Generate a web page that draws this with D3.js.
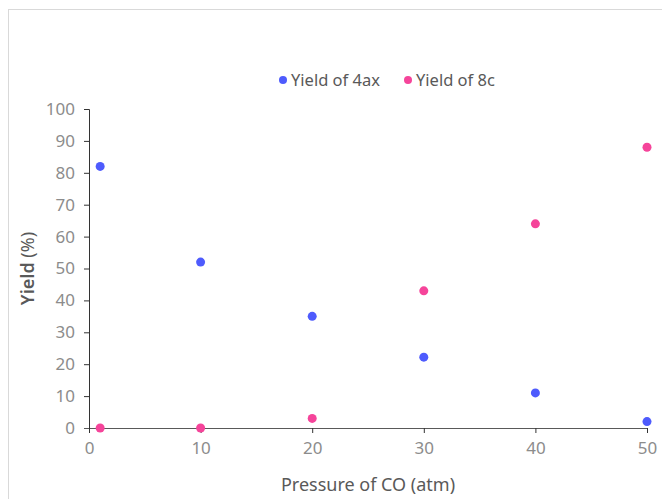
<!DOCTYPE html>
<meta charset="utf-8">
<script src="https://d3js.org/d3.v7.min.js"></script>
<style>
  body { margin: 0; background: #fff; }
  svg text { font-family: "Noto Sans", "Open Sans", sans-serif; }
</style>
<div id="chart"></div>
<script>
  // data
  var pressure = [1, 10, 20, 30, 40, 50];
  var yield4ax = [82, 52, 35, 22.2, 11, 2];
  var yield8c = [0, 0, 3, 43, 64, 88];
  var seriesNames = ["Yield of 4ax", "Yield of 8c"];
  var colors = ["#4e5bfd", "#f5449a"];
  var xTicks = [0, 10, 20, 30, 40, 50];
  var yTicks = [0, 10, 20, 30, 40, 50, 60, 70, 80, 90, 100];

  var W = 662, H = 499;
  var margin = { top: 109, right: 15, bottom: 71, left: 89 },
    width = 647 - margin.left,
    height = 428 - margin.top;

  var svg = d3.select("#chart").append("svg")
    .attr("width", W)
    .attr("height", H);

  // frame
  svg.append("rect")
    .attr("x", 8.5).attr("y", 9.5)
    .attr("width", W).attr("height", H)
    .attr("fill", "none")
    .attr("stroke", "#d9d9d9");

  var g = svg.append("g")
    .attr("transform", "translate(" + margin.left + "," + margin.top + ")");

  var x = d3.scaleLinear().domain([0, 50]).range([0, width]);
  var y = d3.scaleLinear().domain([0, 100]).range([height, 0]);

  // y axis
  var yAxis = g.append("g")
    .call(d3.axisLeft(y).tickValues(yTicks).tickSize(5).tickPadding(9));
  yAxis.select(".domain").attr("stroke", "#333").attr("d", "M-5,0.5H0.5V" + height);
  yAxis.selectAll(".tick line").attr("stroke", "#333");
  yAxis.selectAll("text").attr("fill", "#8c8c8c").style("font-size", "17px");

  // x axis
  var xAxis = g.append("g")
    .attr("transform", "translate(0," + height + ")")
    .call(d3.axisBottom(x).tickValues(xTicks).tickSize(5).tickPadding(9));
  xAxis.select(".domain").attr("stroke", "#595959").attr("d", "M-5,0.5H" + (width + 0.5));
  xAxis.selectAll(".tick line").attr("stroke", "#333");
  xAxis.selectAll("text").attr("fill", "#8c8c8c").style("font-size", "17px");

  // points
  var allSeries = [yield4ax, yield8c];
  allSeries.forEach(function (vals, i) {
    g.selectAll(".pt" + i)
      .data(vals)
      .enter()
      .append("circle")
      .attr("class", "pt" + i)
      .attr("cx", function (d, j) { return x(pressure[j]); })
      .attr("cy", function (d) { return y(d); })
      .attr("r", 4.5)
      .attr("fill", colors[i]);
  });

  // axis titles
  svg.append("text")
    .attr("x", margin.left + width / 2)
    .attr("y", 491)
    .attr("text-anchor", "middle")
    .attr("fill", "#595959")
    .style("font-size", "18px")
    .text("Pressure of CO (atm)");

  var yTitle = svg.append("text")
    .attr("transform", "translate(34," + (margin.top + height / 2) + ") rotate(-90)")
    .attr("text-anchor", "middle")
    .attr("fill", "#595959")
    .style("font-size", "18px");
  yTitle.append("tspan").style("font-weight", "600").text("Yield ");
  yTitle.append("tspan").text("(%)");

  // legend
  var legendX = [283, 408];
  seriesNames.forEach(function (name, i) {
    svg.append("circle")
      .attr("cx", legendX[i]).attr("cy", 80)
      .attr("r", 4).attr("fill", colors[i]);
    svg.append("text")
      .attr("x", legendX[i] + 8).attr("y", 86)
      .attr("fill", "#595959")
      .style("font-size", "16.5px")
      .text(name);
  });
</script>
